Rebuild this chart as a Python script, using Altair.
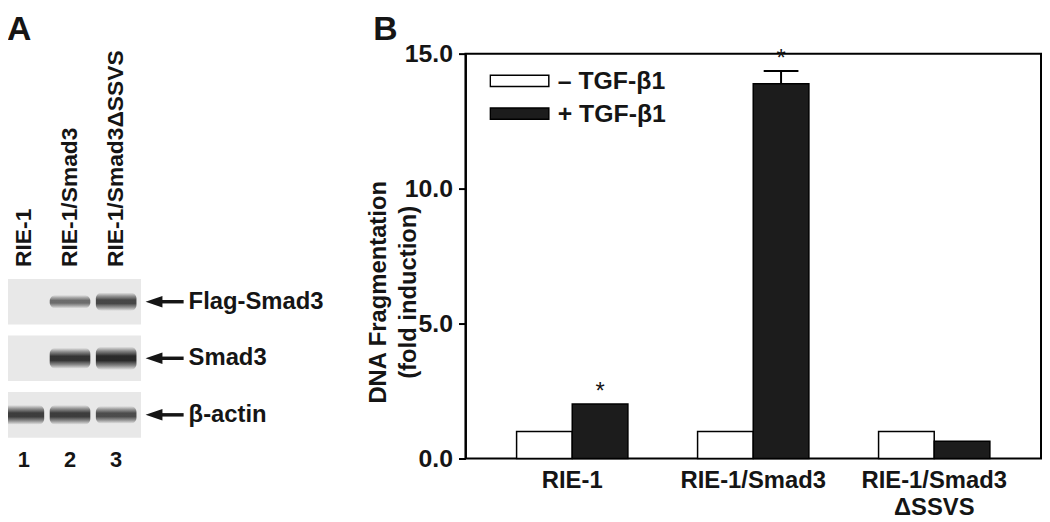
import altair as alt
import pandas as pd

# ---------------- data ----------------
# Panel A (western blot): relative band signal per lane
lane_numbers = [1, 2, 3]
lane_names = ["RIE-1", "RIE-1/Smad3", "RIE-1/Smad3\u0394SSVS"]
blot_targets = ["Flag-Smad3", "Smad3", "\u03b2-actin"]
flag_smad3_signal = [0.0, 0.55, 0.75]
smad3_signal = [0.0, 0.85, 0.95]
actin_signal = [0.8, 0.8, 0.72]

# Panel B (DNA fragmentation, fold induction)
groups = ["RIE-1", "RIE-1/Smad3", "RIE-1/Smad3|\u0394SSVS"]
treatments = ["\u2013 TGF-\u03b21", "+ TGF-\u03b21"]
minus_tgf = [1.0, 1.0, 1.0]
plus_tgf = [2.02, 13.88, 0.64]
plus_tgf_err = [0.0, 0.48, 0.0]
plus_tgf_signif = [True, True, False]
y_ticks = [0.0, 5.0, 10.0, 15.0]
y_title = ["DNA Fragmentation", "(fold induction)"]
panel_letters = ["A", "B"]

# ---------------- layout / style constants ----------------
FONT = "Liberation Sans, Arial, Helvetica, sans-serif"
INK = "#151515"
BAR_DARK = "#1c1c1c"
BLOT_BG = "#e8e8e8"

# panel A works in lane (x) and blot-row (y) units
XA = alt.Scale(domain=[0, 4], range=[-491.5, -305.5], nice=False, zero=False)
YA = alt.Scale(domain=[0, 2], range=[250, 364], nice=False, zero=False)
LANE_HALF = 0.44
BLOT_X0, BLOT_X1, BLOT_HALF = 0.484, 3.538, 0.4035
ARROW_HEAD_X, SHAFT_X0, SHAFT_X1, ROW_LABEL_X = 3.82, 3.80, 4.462, 4.57
LANE_LABEL_Y, LANE_NUM_Y = -0.614, 2.807
LETTER_X, LETTER_Y = [0.634, 8.57], -4.62


def ax(field):
    return alt.X(field, scale=XA, axis=None)


def ay(field):
    return alt.Y(field, scale=YA, axis=None)


rows_idx = list(range(len(blot_targets)))
blot_df = pd.DataFrame({
    "row": rows_idx,
    "target": blot_targets,
})
blot_df["y0"] = blot_df["row"] - BLOT_HALF
blot_df["y1"] = blot_df["row"] + BLOT_HALF
blot_df["x0"] = BLOT_X0
blot_df["x1"] = BLOT_X1
blot_df["lx"] = ROW_LABEL_X
blot_df["hx"] = ARROW_HEAD_X
blot_df["sx0"] = SHAFT_X0
blot_df["sx1"] = SHAFT_X1

band_recs = []
for r, sig in enumerate([flag_smad3_signal, smad3_signal, actin_signal]):
    for lane, s in zip(lane_numbers, sig):
        if s > 0:
            half = 0.95 * 13 * s / 57.0
            band_recs.append({
                "x0": lane - LANE_HALF, "x1": lane + LANE_HALF,
                "y0": r - half, "y1": r + half,
                "op": min(1.0, s + 0.1),
            })
band_df = pd.DataFrame(band_recs)

lane_df = pd.DataFrame({"x": lane_numbers, "name": lane_names,
                        "num": [str(n) for n in lane_numbers]})
lane_df["ly"] = LANE_LABEL_Y
lane_df["ny"] = LANE_NUM_Y

letter_df = pd.DataFrame({"x": LETTER_X, "label": panel_letters})
letter_df["y"] = LETTER_Y

band_gradient = {
    "gradient": "linear", "x1": 0, "x2": 0, "y1": 0, "y2": 1,
    "stops": [
        {"offset": 0.0, "color": "rgba(45,45,45,0)"},
        {"offset": 0.2, "color": "rgba(45,45,45,0.55)"},
        {"offset": 0.4, "color": "rgba(32,32,32,0.95)"},
        {"offset": 0.6, "color": "rgba(32,32,32,0.95)"},
        {"offset": 0.8, "color": "rgba(45,45,45,0.55)"},
        {"offset": 1.0, "color": "rgba(45,45,45,0)"},
    ],
}

blots = alt.Chart(blot_df).mark_rect(fill=BLOT_BG).encode(
    x=ax("x0:Q"), x2="x1:Q", y=ay("y0:Q"), y2="y1:Q")
bands = alt.Chart(band_df).mark_rect(fill=band_gradient, cornerRadius=6).encode(
    x=ax("x0:Q"), x2="x1:Q", y=ay("y0:Q"), y2="y1:Q",
    opacity=alt.Opacity("op:Q", scale=None))
lane_text = alt.Chart(lane_df).mark_text(
    angle=270, align="left", baseline="middle", font=FONT, fontSize=23,
    fontWeight="bold", color=INK).encode(x=ax("x:Q"), y=ay("ly:Q"), text="name:N")
lane_nums = alt.Chart(lane_df).mark_text(
    align="center", baseline="middle", font=FONT, fontSize=22,
    fontWeight="bold", color=INK).encode(x=ax("x:Q"), y=ay("ny:Q"), text="num:N")
shafts = alt.Chart(blot_df).mark_rule(strokeWidth=3.5, color=INK).encode(
    x=ax("sx0:Q"), x2="sx1:Q", y=ay("row:Q"))
heads = alt.Chart(blot_df).mark_point(
    shape="M-1,0L1,-0.68L1,0.68Z", size=289, filled=True, color=INK,
    opacity=1).encode(x=ax("hx:Q"), y=ay("row:Q"))
row_text = alt.Chart(blot_df).mark_text(
    align="left", baseline="middle", font=FONT, fontSize=24,
    fontWeight="bold", color=INK).encode(x=ax("lx:Q"), y=ay("row:Q"), text="target:N")
letters = alt.Chart(letter_df).mark_text(
    align="left", baseline="alphabetic", font=FONT, fontSize=34,
    fontWeight="bold", color=INK).encode(x=ax("x:Q"), y=ay("y:Q"), text="label:N")

panel_a = alt.layer(blots, bands, lane_text, lane_nums, shafts, heads, row_text, letters)

# ---------------- panel B ----------------
recs = []
for g, m, p, e, s in zip(groups, minus_tgf, plus_tgf, plus_tgf_err, plus_tgf_signif):
    recs.append({"group": g, "treatment": treatments[0], "value": m,
                 "err": 0.0, "upper": m, "signif": False})
    recs.append({"group": g, "treatment": treatments[1], "value": p,
                 "err": e, "upper": p + e, "signif": s})
bar_df = pd.DataFrame(recs)

X_B = alt.X("group:N", sort=groups,
            scale=alt.Scale(domain=groups, paddingInner=0, paddingOuter=0.09),
            axis=alt.Axis(title=None, ticks=False, domain=False, labelAngle=0,
                          labelExpr="split(datum.label, '|')", labelFont=FONT,
                          labelFontSize=24, labelFontWeight="bold", labelColor=INK,
                          labelPadding=10, labelLineHeight=27, labelBaseline="top",
                          labelLimit=400))
XO_B = alt.XOffset("treatment:N", sort=treatments,
                   scale=alt.Scale(domain=treatments, paddingInner=0, paddingOuter=0.626))
Y_AXIS = alt.Axis(values=y_ticks, format=".1f", grid=False, tickSize=7, tickWidth=2,
                  tickColor="black", domainColor="black", domainWidth=2,
                  labelFont=FONT, labelFontSize=25, labelFontWeight="bold",
                  labelColor=INK, labelPadding=6,
                  title=y_title, titleFont=FONT, titleFontSize=24,
                  titleFontWeight="bold", titleColor=INK, titleAngle=270,
                  titleX=-88, titleY=240, titleAlign="center",
                  titleBaseline="middle", titleLineHeight=31)
Y_SCALE = alt.Scale(domain=[0, 15], nice=False, zero=True)

base = alt.Chart(bar_df).encode(x=X_B, xOffset=XO_B)

bars = base.mark_bar(stroke="black", strokeWidth=1.5).encode(
    y=alt.Y("value:Q", scale=Y_SCALE, axis=Y_AXIS),
    fill=alt.Fill("treatment:N", sort=treatments,
                  scale=alt.Scale(domain=treatments, range=["white", BAR_DARK]),
                  legend=alt.Legend(
                      title=None, orient="none", legendX=24, legendY=12.5,
                      padding=0, offset=0,
                      symbolType="M-1,-0.19H1V0.19H-1Z", symbolSize=3481,
                      symbolStrokeColor="black", symbolStrokeWidth=1.5,
                      symbolOpacity=1, clipHeight=30, rowPadding=3,
                      labelOffset=8, labelFont=FONT, labelFontSize=25,
                      labelFontWeight="bold", labelColor=INK, labelLimit=400)))
err_rule = base.transform_filter("datum.err > 0").mark_rule(
    strokeWidth=2, color="black").encode(
    y=alt.Y("value:Q", scale=Y_SCALE, axis=Y_AXIS), y2="upper:Q")
err_cap = base.transform_filter("datum.err > 0").mark_tick(
    size=35, thickness=2, color="black", opacity=1).encode(
    y=alt.Y("upper:Q", scale=Y_SCALE, axis=Y_AXIS))
stars = base.transform_filter("datum.signif").mark_text(
    text="*", font=FONT, fontSize=24, baseline="middle", dy=-12,
    color=INK).encode(y=alt.Y("upper:Q", scale=Y_SCALE, axis=Y_AXIS))

panel_b = alt.layer(bars, err_rule, err_cap, stars)

chart = alt.layer(panel_a, panel_b).resolve_scale(
    x="independent", y="independent"
).properties(
    width=580, height=408,
    padding={"left": 461, "top": 44, "right": 1, "bottom": 62},
    autosize=alt.AutoSizeParams(type="none"),
    background="white",
).configure_view(stroke="black", strokeWidth=2)

chart.save("out.html", embed_options={"renderer": "svg", "actions": False})
